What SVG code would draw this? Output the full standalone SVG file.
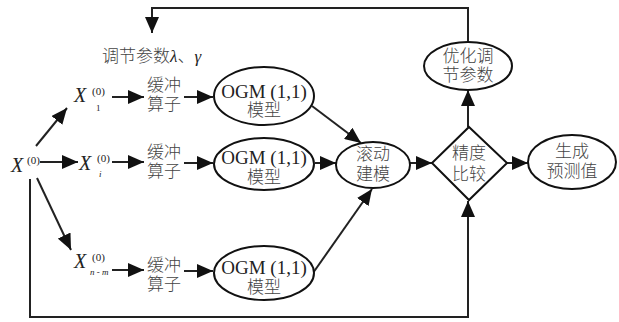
<svg xmlns="http://www.w3.org/2000/svg" width="619" height="322" viewBox="0 0 619 322">
<style>
.ln{fill:none;stroke:#222;stroke-width:2}
.arr{marker-end:url(#ah)}
.sh{fill:#fff;stroke:#111;stroke-width:2}
.cn{font-family:"Noto Sans CJK SC","Liberation Serif",serif;font-size:17px;font-weight:300;fill:#444;text-anchor:middle}
.lt{font-family:"Liberation Serif",serif;font-size:19px;fill:#222}
.xv{font-family:"Liberation Serif",serif;font-style:italic;font-size:20px;fill:#222}
.sup{font-family:"Liberation Serif",serif;font-style:normal;font-size:11px;fill:#222}
.sub{font-family:"Liberation Serif",serif;font-style:italic;font-size:9px;fill:#222}
</style>
<defs>
<marker id="ah" markerUnits="userSpaceOnUse" markerWidth="16" markerHeight="14" refX="16" refY="7" orient="auto">
<path d="M0,0 L16,7 L0,14 z" fill="#111"/>
</marker>
</defs>
<g id="connectors">
<polyline class="ln arr" points="468,42 468,8 152,8 152,33"/>
<line class="ln arr" x1="36" y1="146" x2="67" y2="108"/>
<line class="ln arr" x1="40" y1="162" x2="78" y2="162"/>
<line class="ln arr" x1="37" y1="178" x2="71" y2="250"/>
<polyline class="ln arr" points="30,179 30,317 468,317 468,201"/>
<line class="ln arr" x1="112" y1="97" x2="144" y2="97"/>
<line class="ln arr" x1="184" y1="97" x2="213" y2="97"/>
<line class="ln arr" x1="112" y1="162" x2="144" y2="162"/>
<line class="ln arr" x1="184" y1="163" x2="213" y2="163"/>
<line class="ln arr" x1="112" y1="270" x2="144" y2="270"/>
<line class="ln arr" x1="184" y1="271" x2="213" y2="271"/>
<line class="ln arr" x1="312" y1="106" x2="361" y2="143"/>
<line class="ln arr" x1="315" y1="163" x2="336" y2="163"/>
<line class="ln arr" x1="313" y1="273" x2="372" y2="189"/>
<line class="ln arr" x1="410" y1="163" x2="432" y2="163"/>
<line class="ln arr" x1="507" y1="163" x2="528" y2="163"/>
<line class="ln arr" x1="468" y1="127" x2="468" y2="90"/>
</g>
<g id="label-params">
<text x="102" y="62" class="cn" style="text-anchor:start">调节参数<tspan font-family="Liberation Serif" font-style="italic" fill="#222">λ</tspan>、<tspan font-family="Liberation Serif" font-style="italic" fill="#222">γ</tspan></text>
</g>
<g id="x0">
<text class="xv" x="11" y="172">X<tspan class="sup" x="27" y="164">(0)</tspan></text>
</g>
<g id="x1">
<text class="xv" x="74" y="102">X<tspan class="sup" x="92" y="95">(0)</tspan><tspan class="sub" x="96" y="111" style="font-style:normal">1</tspan></text>
</g>
<g id="xi">
<text class="xv" x="79" y="170">X<tspan class="sup" x="97" y="162">(0)</tspan><tspan class="sub" x="99" y="177">i</tspan></text>
</g>
<g id="xnm">
<text class="xv" x="74" y="268">X<tspan class="sup" x="92" y="261">(0)</tspan><tspan class="sub" x="90" y="275">n - m</tspan></text>
</g>
<g id="buffer1"><text class="cn" x="164" y="91">缓冲<tspan x="164" dy="19">算子</tspan></text></g>
<g id="buffer2"><text class="cn" x="164" y="158">缓冲<tspan x="164" dy="19">算子</tspan></text></g>
<g id="buffer3"><text class="cn" x="164" y="271">缓冲<tspan x="164" dy="19">算子</tspan></text></g>
<g id="ogm1"><ellipse class="sh" cx="264" cy="96" rx="50" ry="29"/><text class="cn" x="264" y="98"><tspan class="lt">OGM (1,1)</tspan><tspan x="264" dy="18">模型</tspan></text></g>
<g id="ogm2"><ellipse class="sh" cx="264" cy="164" rx="50" ry="26"/><text class="cn" x="264" y="164"><tspan class="lt">OGM (1,1)</tspan><tspan x="264" dy="19">模型</tspan></text></g>
<g id="ogm3"><ellipse class="sh" cx="264" cy="273" rx="50" ry="27"/><text class="cn" x="264" y="274"><tspan class="lt">OGM (1,1)</tspan><tspan x="264" dy="19">模型</tspan></text></g>
<g id="rolling"><ellipse class="sh" cx="373" cy="165" rx="37" ry="23"/><text class="cn" x="373" y="160">滚动<tspan x="373" dy="20">建模</tspan></text></g>
<g id="compare"><polygon class="sh" points="469,127 507,163 469,200 432,163"/><text class="cn" x="469" y="159">精度<tspan x="469" dy="21">比较</tspan></text></g>
<g id="optimize"><ellipse class="sh" cx="468" cy="66" rx="44" ry="24"/><text class="cn" x="468" y="62">优化调<tspan x="468" dy="19">节参数</tspan></text></g>
<g id="output"><ellipse class="sh" cx="572" cy="162" rx="44" ry="27"/><text class="cn" x="572" y="157">生成<tspan x="572" dy="20">预测值</tspan></text></g>
</svg>
